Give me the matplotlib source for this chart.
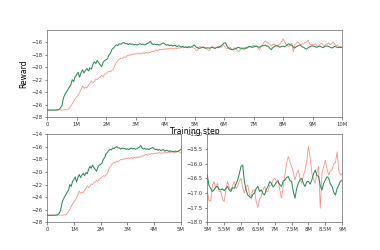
import numpy as np
import matplotlib
matplotlib.use("Agg")
import matplotlib.pyplot as plt

# training step (millions), 0.05M resolution
steps = np.round(np.arange(0, 201) * 0.05, 2)

green = [
    -26.90, -26.88, -26.92, -26.90, -26.87, -26.90, -26.88, -26.85, -26.80, -26.55,
    -26.20, -25.00, -24.40, -24.00, -23.60, -23.20, -22.90, -22.00, -22.30, -21.50,
    -21.20, -20.80, -21.60, -20.90, -20.40, -20.90, -20.50, -20.20, -20.60, -20.10,
    -20.30, -19.60, -19.10, -19.40, -18.90, -19.30, -19.60, -19.90, -19.20, -18.90,
    -18.80, -18.60, -18.00, -17.70, -17.10, -16.90, -16.60, -16.40, -16.50, -16.20,
    -16.30, -16.10, -16.00, -16.20, -16.15, -16.35, -16.20, -16.30, -16.25, -16.40,
    -16.30, -16.45, -16.30, -16.20, -16.35, -16.25, -16.40, -16.30, -16.15, -16.05,
    -15.80, -16.20, -16.35, -16.25, -16.40, -16.30, -16.45, -16.30, -16.20, -16.10,
    -16.30, -16.45, -16.35, -16.55, -16.40, -16.60, -16.50, -16.45, -16.70, -16.55,
    -16.60, -16.75, -16.60, -16.80, -16.70, -16.85, -16.65, -16.80, -16.70, -16.55,
    -16.39, -16.75, -16.84, -16.95, -16.90, -16.80, -16.78, -16.88, -16.90, -16.86,
    -16.92, -16.85, -16.78, -16.90, -16.95, -16.82, -16.84, -16.70, -16.56, -16.35,
    -16.10, -16.05, -16.61, -16.90, -17.07, -17.12, -17.18, -17.05, -17.01, -16.85,
    -16.78, -16.95, -16.90, -17.02, -17.07, -16.88, -16.78, -16.62, -16.67, -16.80,
    -16.73, -16.64, -16.61, -16.72, -16.78, -16.60, -16.56, -16.48, -16.44, -16.58,
    -16.61, -16.95, -17.18, -16.85, -16.67, -16.55, -16.50, -16.68, -16.78, -16.62,
    -16.61, -16.70, -16.56, -16.35, -16.22, -16.40, -16.44, -16.75, -16.90, -16.68,
    -16.56, -16.45, -16.50, -16.70, -16.78, -16.98, -17.07, -16.85, -16.73, -16.60,
    -16.56, -16.62, -16.70, -16.80, -16.65, -16.58, -16.72, -16.85, -16.70, -16.60,
    -16.55, -16.68, -16.75, -16.90, -16.80, -16.65, -16.70, -16.85, -16.78, -16.80,
    -16.80,
]

salmon = [
    -26.85, -26.88, -26.85, -26.87, -26.86, -26.88, -26.85, -26.87, -26.86, -26.85,
    -26.88, -26.86, -26.85, -26.82, -26.80, -26.60, -26.30, -25.90, -25.50, -25.10,
    -24.80, -24.50, -24.10, -23.60, -23.00, -23.40, -23.20, -23.30, -22.90, -22.60,
    -22.20, -22.50, -22.30, -21.90, -22.00, -21.70, -21.60, -21.30, -21.50, -21.10,
    -21.00, -20.80, -20.60, -20.70, -20.50, -20.30, -19.60, -19.20, -18.90, -18.70,
    -18.50, -18.60, -18.30, -18.40, -18.20, -18.00, -18.10, -17.90, -18.00, -17.80,
    -17.90, -17.75, -17.85, -17.70, -17.90, -17.65, -17.80, -17.60, -17.75, -17.55,
    -17.65, -17.40, -17.50, -17.30, -17.20, -17.35, -17.10, -17.20, -17.05, -17.15,
    -17.00, -17.10, -16.95, -17.05, -16.90, -17.00, -17.05, -16.90, -17.00, -16.85,
    -16.95, -16.80, -16.90, -16.75, -16.85, -16.70, -16.90, -16.75, -16.65, -16.85,
    -16.95, -17.25, -17.28, -16.75, -16.61, -16.85, -16.67, -16.95, -16.95, -17.20,
    -17.30, -16.90, -16.61, -16.80, -16.90, -16.75, -16.61, -16.85, -16.78, -16.60,
    -16.50, -16.85, -17.01, -16.80, -16.73, -17.05, -17.12, -16.90, -16.90, -17.30,
    -17.50, -17.20, -17.12, -16.90, -16.78, -16.95, -16.95, -16.75, -16.73, -16.55,
    -16.50, -16.60, -16.56, -16.90, -17.18, -16.80, -16.39, -16.00, -15.76, -15.95,
    -16.10, -16.30, -16.56, -16.35, -16.22, -16.50, -16.67, -16.40, -16.22, -15.90,
    -15.42, -15.80, -16.33, -16.55, -16.67, -16.30, -16.10, -17.52, -16.33, -16.10,
    -15.88, -16.20, -16.39, -16.25, -16.22, -16.00, -15.97, -15.60, -16.22, -16.40,
    -16.33, -16.45, -16.20, -16.55, -16.70, -16.35, -16.10, -16.40, -16.60, -16.25,
    -16.30, -16.05, -16.40, -16.20, -15.90, -16.30, -16.55, -16.40, -16.75, -16.65,
    -16.65,
]

top_xticks = [0, 1, 2, 3, 4, 5, 6, 7, 8, 9, 10]
top_xlabels = ["0", "1M", "2M", "3M", "4M", "5M", "6M", "7M", "8M", "9M", "10M"]
top_yticks = [-28, -26, -24, -22, -20, -18, -16]
bl_xticks = [0, 1, 2, 3, 4, 5]
bl_xlabels = ["0", "1M", "2M", "3M", "4M", "5M"]
bl_yticks = [-28, -26, -24, -22, -20, -18, -16, -14]
br_xticks = [5, 5.5, 6, 6.5, 7, 7.5, 8, 8.5, 9]
br_xlabels = ["5M", "5.5M", "6M", "6.5M", "7M", "7.5M", "8M", "8.5M", "9M"]
br_yticks = [-18.0, -17.5, -17.0, -16.5, -16.0, -15.5, -15.0]

GREEN = "#2e8b57"
SALMON = "#fa8072"

fig = plt.figure(figsize=(3.8, 2.5), dpi=100)
ax_top = fig.add_axes([0.124, 0.532, 0.776, 0.348])
ax_bl = fig.add_axes([0.124, 0.111, 0.352, 0.352])
ax_br = fig.add_axes([0.5455, 0.111, 0.355, 0.352])

for ax in (ax_top, ax_bl, ax_br):
    ax.plot(steps, salmon, color=SALMON, lw=0.6, alpha=0.85)
    ax.plot(steps, green, color=GREEN, lw=0.75)
    ax.tick_params(labelsize=3.8, length=1.8, width=0.4, pad=1.5, colors="#333333")
    for s in ax.spines.values():
        s.set_linewidth(0.5)
        s.set_color("#666666")

ax_top.set_xlim(0, 10)
ax_top.set_ylim(-28, -14)
ax_top.set_xticks(top_xticks, top_xlabels)
ax_top.set_yticks(top_yticks)
ax_top.set_ylabel("Reward", fontsize=5.5, labelpad=2)
ax_top.set_xlabel("Training step", fontsize=5.5, labelpad=0.5)

ax_bl.set_xlim(0, 5)
ax_bl.set_ylim(-28, -14)
ax_bl.set_xticks(bl_xticks, bl_xlabels)
ax_bl.set_yticks(bl_yticks)

ax_br.set_xlim(5, 9)
ax_br.set_ylim(-18, -15)
ax_br.set_xticks(br_xticks, br_xlabels)
ax_br.set_yticks(br_yticks)

fig.savefig("out.png", dpi=100)
